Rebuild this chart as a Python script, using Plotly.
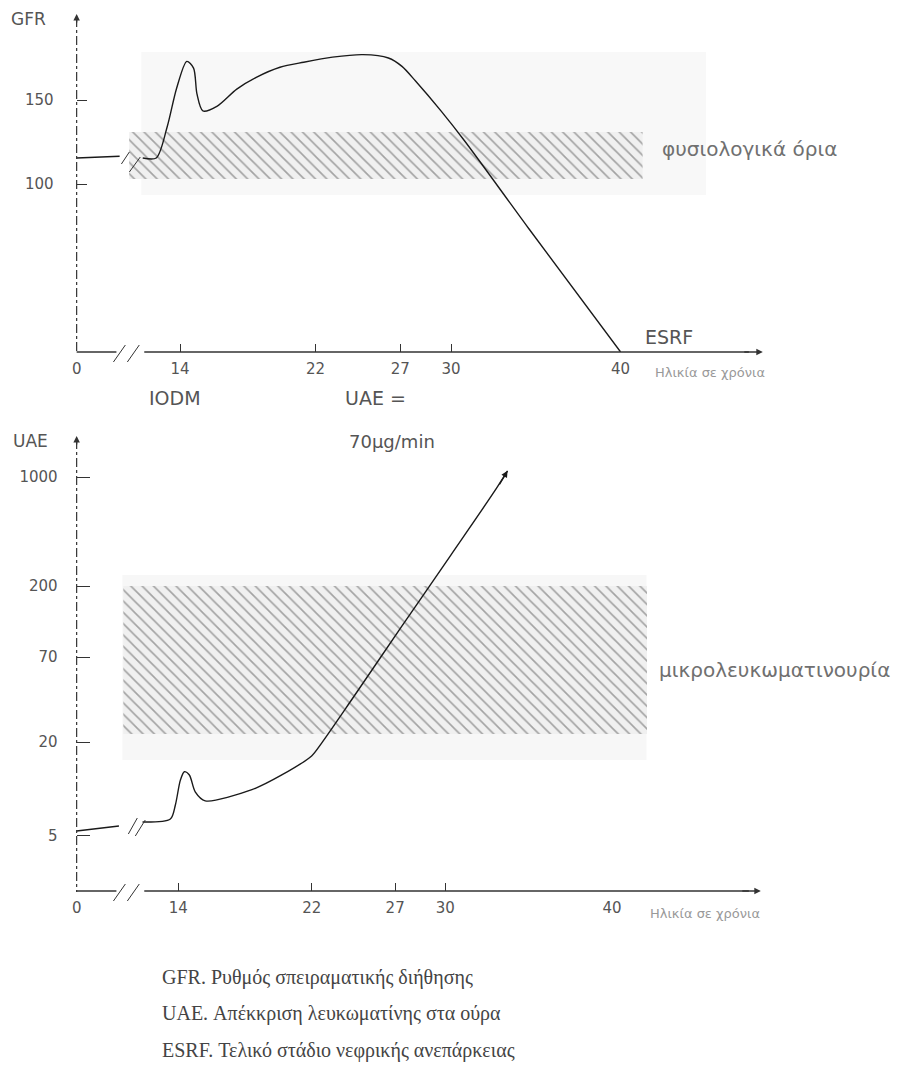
import numpy as np
import plotly.graph_objects as go

W, H = 913, 1081          # browser window
OFF = 8                   # default page body margin
FW, FH = W - 2 * OFF, H - 2 * OFF

# ---------------- data ----------------
x_tick_vals = [0, 14, 22, 27, 30, 40]
x_tick_text = ["0", "14", "22", "27", "30", "40"]
x_tick_marks = [14, 22, 27, 30]

# GFR (ml/min) vs age (years)
gfr_age = [0, 9, None, 11.8, 12.6, 13.24, 13.8, 14.4, 14.8, 15.0, 15.35, 16.2, 17.35,
           18.5, 19.9, 21.3, 23.0, 24.8, 26.3, 27.1, 27.9, 29.4, 30.8, 34.6, 40]
gfr_val = [115.5, 116.5, None, 115.5, 115.5, 133.9, 157, 173, 169, 153.6, 143.5, 146.4, 156.5,
           163.5, 169.5, 172.5, 175.5, 177, 175, 170, 161.3, 143.5, 125.6, 73.2, 0]
gfr_ticks = [100, 150]
gfr_normal = [103, 131]          # physiological range band

# UAE (μg/min) vs age (years)
uae_age = [0, 9, None, 11.85, 13.52, 13.82, 14.12, 14.36, 14.66, 15.01, 15.61, 18.41,
           20.2, 21.99, 22.59, 24.38, 27.36, 30.34, 32.9, 33.74]
uae_val = [5.38, 5.79, None, 6.14, 6.42, 7.9, 11.4, 12.9, 12.3, 9.6, 8.4, 9.9,
           12.3, 16.3, 19.7, 37.2, 109, 316, 793, 1095]
uae_ticks = [5, 20, 70, 200, 1000]
uae_micro = [22.5, 200]          # microalbuminuria band

# ---------------- helpers ----------------
D0, BRK = 7.9, 11.0             # broken axis: age 0 drawn at D0, real scale from BRK


def to_axis(a):
    if a is None:
        return None
    return a if a >= BRK else D0 + a * (BRK - D0) / BRK


def P(px, py):
    """page pixel -> paper fraction"""
    return (px - OFF) / FW, 1 - (py - OFF) / FH


SANS = "DejaVu Sans"
SERIF = "Liberation Serif"
GREY = "#555555"

fig = go.Figure()

# scan-like faint background areas
shapes = []
for (x0, y0, x1, y1, c) in [(137, 52, 705, 195, "#f8f8f8"), (118, 575, 645, 760, "#f7f7f7")]:
    a0, b0 = P(x0, y0)
    a1, b1 = P(x1, y1)
    shapes.append(dict(type="rect", xref="paper", yref="paper", x0=a0, x1=a1, y0=b1, y1=b0,
                       fillcolor=c, line=dict(width=0), layer="below"))

# hatched bands
band_top_x = [11.0, 41.3]
band_bot_x = [10.7, 42.1]
pat = dict(shape="\\", fgcolor="#555555", bgcolor="#f0f0f0", size=8, solidity=0.2)
fig.add_trace(go.Bar(x=[(band_top_x[0] + band_top_x[1]) / 2], y=[gfr_normal[1] - gfr_normal[0]],
                     base=[gfr_normal[0]], width=[band_top_x[1] - band_top_x[0]],
                     marker=dict(color="#f0f0f0", line=dict(width=0), pattern=pat),
                     xaxis="x", yaxis="y", showlegend=False, hoverinfo="skip"))
fig.add_trace(go.Bar(x=[(band_bot_x[0] + band_bot_x[1]) / 2], y=[uae_micro[1] - uae_micro[0]],
                     base=[uae_micro[0]], width=[band_bot_x[1] - band_bot_x[0]],
                     marker=dict(color="#f0f0f0", line=dict(width=0), pattern=pat),
                     xaxis="x2", yaxis="y2", showlegend=False, hoverinfo="skip"))

# curves
fig.add_trace(go.Scatter(x=[to_axis(a) for a in gfr_age], y=gfr_val, mode="lines",
                         line=dict(color="#1a1a1a", width=1.4, shape="spline", smoothing=0.8),
                         connectgaps=False, xaxis="x", yaxis="y", showlegend=False, cliponaxis=False))
fig.add_trace(go.Scatter(x=[to_axis(a) for a in uae_age], y=uae_val, mode="lines",
                         line=dict(color="#1a1a1a", width=1.4, shape="spline", smoothing=0.8),
                         connectgaps=False, xaxis="x2", yaxis="y2", showlegend=False, cliponaxis=False))


def seg(x0, y0, x1, y1, w=1.3, c="#333333", dash="solid"):
    a0, b0 = P(x0, y0)
    a1, b1 = P(x1, y1)
    shapes.append(dict(type="line", xref="paper", yref="paper", x0=a0, y0=b0, x1=a1, y1=b1,
                       line=dict(color=c, width=w, dash=dash)))


# y axes
seg(72, 18, 72, 352, w=1.2, dash="dashdot")
seg(72, 440, 72, 892, w=1.2, dash="dashdot")
# x axes with breaks
for yax in (352, 891):
    seg(72, yax, 112, yax)
    seg(140, yax, 748, yax)
    seg(109, yax + 10, 121, yax - 7, w=1)
    seg(123, yax + 10, 135, yax - 7, w=1)
# break marks on curves
seg(117, 164, 125, 152, w=1)
seg(125, 172, 136, 157, w=1)
seg(124, 834, 133, 818, w=1)
seg(131, 836, 141, 820, w=1)

annotations = []


def txt(s, px, py, size=14, anchor="left", color=GREY, family=SANS):
    a, b = P(px, py)
    annotations.append(dict(text=s, x=a, y=b, xref="paper", yref="paper", showarrow=False,
                            xanchor=anchor, yanchor="middle", borderpad=0,
                            font=dict(family=family, size=size, color=color)))


def arrow(px, py, dx, dy):
    a, b = P(px, py)
    annotations.append(dict(text="", x=a, y=b, xref="paper", yref="paper", showarrow=True,
                            ax=dx, ay=dy, arrowhead=2, arrowsize=1, arrowwidth=1.3,
                            arrowcolor="#333333"))


# axis arrows
arrow(762, 352, -20, 0)
arrow(760, 891, -20, 0)
arrow(72, 14, 0, 10)
arrow(72, 436, 0, 10)
# arrow at the end of the UAE curve
annotations.append(dict(text="", x=to_axis(uae_age[-1]), y=np.log10(uae_val[-1]), xref="x2", yref="y2",
                        showarrow=True, ax=-9, ay=15, arrowhead=2, arrowsize=1, arrowwidth=1.3,
                        arrowcolor="#1a1a1a"))

txt("GFR", 5, 19, 17)
txt("UAE", 7, 441, 17)
txt("IODM", 171, 398, 19, anchor="center")
txt("UAE =", 341, 398, 19)
txt("70μg/min", 345, 441, 18)
txt("ESRF", 643, 337, 19)
txt("Ηλικία σε χρόνια", 653, 372, 13, color="#999999")
txt("Ηλικία σε χρόνια", 648, 913, 13, color="#999999")
txt("φυσιολογικά όρια", 660, 149, 20, color="#707070")
txt("μικρολευκωματινουρία", 657, 670, 20, color="#707070")
txt("GFR. Ρυθμός σπειραματικής διήθησης", 157, 977, 20, color="#444444", family=SERIF)
txt("UAE. Απέκκριση λευκωματίνης στα ούρα", 157, 1013, 20, color="#444444", family=SERIF)
txt("ESRF. Τελικό στάδιο νεφρικής ανεπάρκειας", 157, 1050, 20, color="#444444", family=SERIF)

tickfont = dict(family=SANS, size=15, color=GREY)
xcommon = dict(tickmode="array", tickvals=[to_axis(v) for v in x_tick_vals], ticktext=x_tick_text,
               ticks="", showline=False, showgrid=False, zeroline=False, tickfont=tickfont,
               ticklabelstandoff=6, fixedrange=True,
               minor=dict(tickmode="array", tickvals=x_tick_marks, ticks="inside", ticklen=8,
                          tickcolor="#333333", tickwidth=1, showgrid=False))

right_px = OFF + FW
fig.update_layout(
    width=FW, height=FH, autosize=False,
    margin=dict(l=0, r=0, t=0, b=0),
    paper_bgcolor="white", plot_bgcolor="rgba(0,0,0,0)",
    barmode="overlay", showlegend=False,
    xaxis=dict(domain=[(72 - OFF) / FW, 1], range=[D0, D0 + (right_px - 72) / 17.04], anchor="y", **xcommon),
    yaxis=dict(domain=[1 - (352 - OFF) / FH, 1], range=[0, (352 - OFF) / 1.68], anchor="x",
               tickmode="array", tickvals=gfr_ticks, ticks="inside", ticklen=10,
               tickcolor="#333333", showline=False, showgrid=False, zeroline=False,
               tickfont=tickfont, ticklabelstandoff=22, fixedrange=True),
    xaxis2=dict(domain=[(72 - OFF) / FW, 1], range=[D0, D0 + (right_px - 72) / 16.77], anchor="y2", **xcommon),
    yaxis2=dict(domain=[1 - (891 - OFF) / FH, 1 - (430 - OFF) / FH], type="log",
                range=[(945 - 891) / 156, (945 - 430) / 156], anchor="x2",
                tickmode="array", tickvals=uae_ticks, ticktext=[str(v) for v in uae_ticks],
                ticks="inside", ticklen=13, tickcolor="#333333", showline=False,
                showgrid=False, zeroline=False, tickfont=tickfont, ticklabelstandoff=18,
                fixedrange=True),
    shapes=shapes,
    annotations=annotations,
)

fig.write_html("out.html")
